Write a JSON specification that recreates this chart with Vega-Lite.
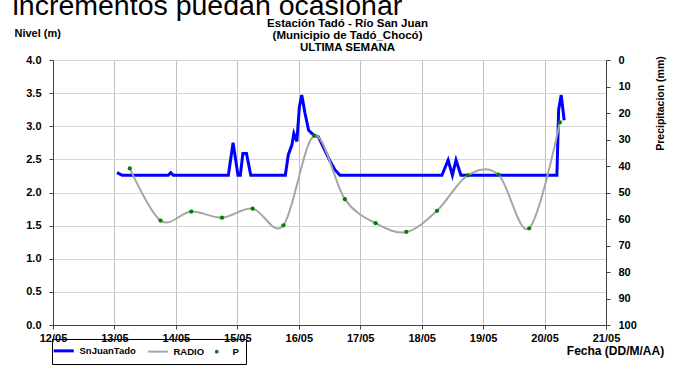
{
  "$schema": "https://vega.github.io/schema/vega-lite/v6.json",
  "width": 553,
  "height": 265,
  "autosize": {"type": "none"},
  "padding": {"left": 53, "top": 60, "right": 70, "bottom": 54},
  "background": "white",
  "config": {
    "font": "Liberation Sans",
    "view": {"stroke": null},
    "axis": {
      "labelFont": "Liberation Sans", "labelFontWeight": "bold", "labelFontSize": 11, "labelColor": "black",
      "titleFont": "Liberation Sans", "titleFontWeight": "bold", "titleFontSize": 11, "titleColor": "black",
      "domainColor": "#404040", "tickColor": "#404040", "gridColor": "#c8c8c8"
    }
  },
  "title": {
    "text": ["Estación Tadó - Río San Juan", "(Municipio de Tadó_Chocó)", "ULTIMA SEMANA"],
    "anchor": "middle", "dx": 18, "offset": -62, "fontSize": 11.5, "fontWeight": "bold",
    "lineHeight": 12, "font": "Liberation Sans", "color": "black"
  },
  "datasets": {
    "nivel": [
      {"t": "2023-05-13T01:00:00", "nivel": 2.30},
      {"t": "2023-05-13T02:00:00", "nivel": 2.28},
      {"t": "2023-05-13T03:00:00", "nivel": 2.26},
      {"t": "2023-05-13T21:00:00", "nivel": 2.26},
      {"t": "2023-05-13T22:00:00", "nivel": 2.30},
      {"t": "2023-05-13T23:00:00", "nivel": 2.26},
      {"t": "2023-05-14T20:30:00", "nivel": 2.26},
      {"t": "2023-05-14T22:20:00", "nivel": 2.75},
      {"t": "2023-05-15T00:15:00", "nivel": 2.26},
      {"t": "2023-05-15T01:10:00", "nivel": 2.26},
      {"t": "2023-05-15T02:10:00", "nivel": 2.59},
      {"t": "2023-05-15T03:35:00", "nivel": 2.59},
      {"t": "2023-05-15T05:15:00", "nivel": 2.26},
      {"t": "2023-05-15T18:45:00", "nivel": 2.26},
      {"t": "2023-05-15T19:55:00", "nivel": 2.57},
      {"t": "2023-05-15T21:20:00", "nivel": 2.72},
      {"t": "2023-05-15T22:05:00", "nivel": 2.89},
      {"t": "2023-05-15T23:15:00", "nivel": 2.77},
      {"t": "2023-05-16T00:15:00", "nivel": 3.30},
      {"t": "2023-05-16T01:10:00", "nivel": 3.47},
      {"t": "2023-05-16T02:25:00", "nivel": 3.20},
      {"t": "2023-05-16T03:50:00", "nivel": 2.94},
      {"t": "2023-05-16T05:45:00", "nivel": 2.87},
      {"t": "2023-05-16T07:40:00", "nivel": 2.84},
      {"t": "2023-05-16T12:15:00", "nivel": 2.47},
      {"t": "2023-05-16T14:10:00", "nivel": 2.34},
      {"t": "2023-05-16T16:05:00", "nivel": 2.26},
      {"t": "2023-05-18T07:55:00", "nivel": 2.26},
      {"t": "2023-05-18T10:20:00", "nivel": 2.49},
      {"t": "2023-05-18T12:00:00", "nivel": 2.26},
      {"t": "2023-05-18T13:25:00", "nivel": 2.49},
      {"t": "2023-05-18T15:20:00", "nivel": 2.26},
      {"t": "2023-05-20T04:50:00", "nivel": 2.26},
      {"t": "2023-05-20T05:30:00", "nivel": 3.25},
      {"t": "2023-05-20T06:30:00", "nivel": 3.47},
      {"t": "2023-05-20T07:40:00", "nivel": 3.09}
    ],
    "precip": [
      {"t": "2023-05-13T06:00:00", "p": 40.9},
      {"t": "2023-05-13T18:00:00", "p": 60.6},
      {"t": "2023-05-14T06:00:00", "p": 57.2},
      {"t": "2023-05-14T18:00:00", "p": 59.5},
      {"t": "2023-05-15T06:00:00", "p": 56.1},
      {"t": "2023-05-15T18:00:00", "p": 62.4},
      {"t": "2023-05-16T06:00:00", "p": 28.6},
      {"t": "2023-05-16T18:00:00", "p": 52.5},
      {"t": "2023-05-17T06:00:00", "p": 61.6},
      {"t": "2023-05-17T18:00:00", "p": 64.9},
      {"t": "2023-05-18T06:00:00", "p": 56.9},
      {"t": "2023-05-18T18:00:00", "p": 43.5},
      {"t": "2023-05-19T06:00:00", "p": 43.3},
      {"t": "2023-05-19T18:00:00", "p": 63.5},
      {"t": "2023-05-20T06:00:00", "p": 23.5}
    ]
  },
  "layer": [
    {
      "data": {"name": "nivel"},
      "mark": {"type": "line", "strokeWidth": 3},
      "encoding": {
        "x": {
          "field": "t", "type": "temporal",
          "scale": {"domain": [{"year": 2023, "month": 5, "date": 12}, {"year": 2023, "month": 5, "date": 21}]},
          "axis": {
            "orient": "bottom", "format": "%d/%m", "tickCount": {"interval": "day", "step": 1},
            "grid": true, "gridColor": "#c0c0c0", "labelPadding": 3, "tickSize": 4, "labelFlush": false,
            "title": "Fecha (DD/M/AA)", "titleX": 562, "titleY": 29, "titleAlign": "center",
            "titleBaseline": "alphabetic", "titleFontSize": 12
          }
        },
        "y": {
          "field": "nivel", "type": "quantitative",
          "scale": {"domain": [0, 4], "nice": false},
          "axis": {
            "values": [0, 0.5, 1, 1.5, 2, 2.5, 3, 3.5, 4], "format": ".1f",
            "grid": true, "gridColor": "#d6d6d6", "tickSize": 4, "labelPadding": 8,
            "title": "Nivel (m)", "titleAngle": 0, "titleX": -39, "titleY": -24,
            "titleAlign": "left", "titleBaseline": "alphabetic"
          }
        },
        "color": {
          "datum": "SnJuanTado", "type": "nominal",
          "scale": {"domain": ["SnJuanTado", "RADIO", "P"], "range": ["#0000ff", "#a6a6a6", "#008000"]},
          "legend": {
            "orient": "none", "legendX": -1, "legendY": 279, "direction": "horizontal", "title": null,
            "strokeColor": "black", "padding": 7, "labelFont": "Liberation Sans", "labelFontWeight": "bold",
            "labelFontSize": 9.5, "labelColor": "black", "symbolSize": 400, "columnPadding": 7,
            "symbolType": "stroke", "symbolStrokeWidth": 3, "labelOffset": 11,
            "encode": {
              "symbols": {
                "update": {
                  "shape": {"signal": "datum.value === 'P' ? 'circle' : 'stroke'"},
                  "size": {"signal": "datum.value === 'P' ? 14 : 400"},
                  "strokeWidth": {"signal": "datum.value === 'SnJuanTado' ? 3 : (datum.value === 'RADIO' ? 2 : 0)"},
                  "fill": {"signal": "datum.value === 'P' ? '#008000' : 'transparent'"},
                  "stroke": {"signal": "datum.value === 'SnJuanTado' ? '#0000ff' : '#a6a6a6'"}
                }
              }
            }
          }
        }
      }
    },
    {
      "data": {"name": "precip"},
      "mark": {"type": "line", "strokeWidth": 2, "interpolate": "cardinal"},
      "encoding": {
        "x": {
          "field": "t", "type": "temporal",
          "scale": {"domain": [{"year": 2023, "month": 5, "date": 12}, {"year": 2023, "month": 5, "date": 21}]},
          "axis": {
            "orient": "top", "labels": false, "ticks": false, "domain": false, "grid": false,
            "title": "incrementos puedan ocasionar", "titleX": -41, "titleY": -46, "titleAlign": "left",
            "titleBaseline": "alphabetic", "titleFontSize": 28.5, "titleFontWeight": "normal"
          }
        },
        "y": {
          "field": "p", "type": "quantitative",
          "scale": {"domain": [0, 100], "reverse": true, "nice": false},
          "axis": {
            "orient": "right", "values": [0, 10, 20, 30, 40, 50, 60, 70, 80, 90, 100], "grid": false,
            "tickSize": 4, "labelPadding": 8,
            "title": "Precipitacion (mm)", "titleAngle": 270, "titleX": 54, "titleY": 43,
            "titleAlign": "center", "titleBaseline": "middle", "titleFontSize": 10.5
          }
        },
        "color": {"datum": "RADIO", "type": "nominal"}
      }
    },
    {
      "data": {"name": "precip"},
      "mark": {"type": "point", "filled": true, "size": 18, "opacity": 1},
      "encoding": {
        "x": {
          "field": "t", "type": "temporal",
          "scale": {"domain": [{"year": 2023, "month": 5, "date": 12}, {"year": 2023, "month": 5, "date": 21}]},
          "axis": null
        },
        "y": {
          "field": "p", "type": "quantitative",
          "scale": {"domain": [0, 100], "reverse": true, "nice": false},
          "axis": null
        },
        "color": {"datum": "P", "type": "nominal"}
      }
    }
  ],
  "resolve": {"scale": {"y": "independent"}, "axis": {"x": "independent", "y": "independent"}}
}
